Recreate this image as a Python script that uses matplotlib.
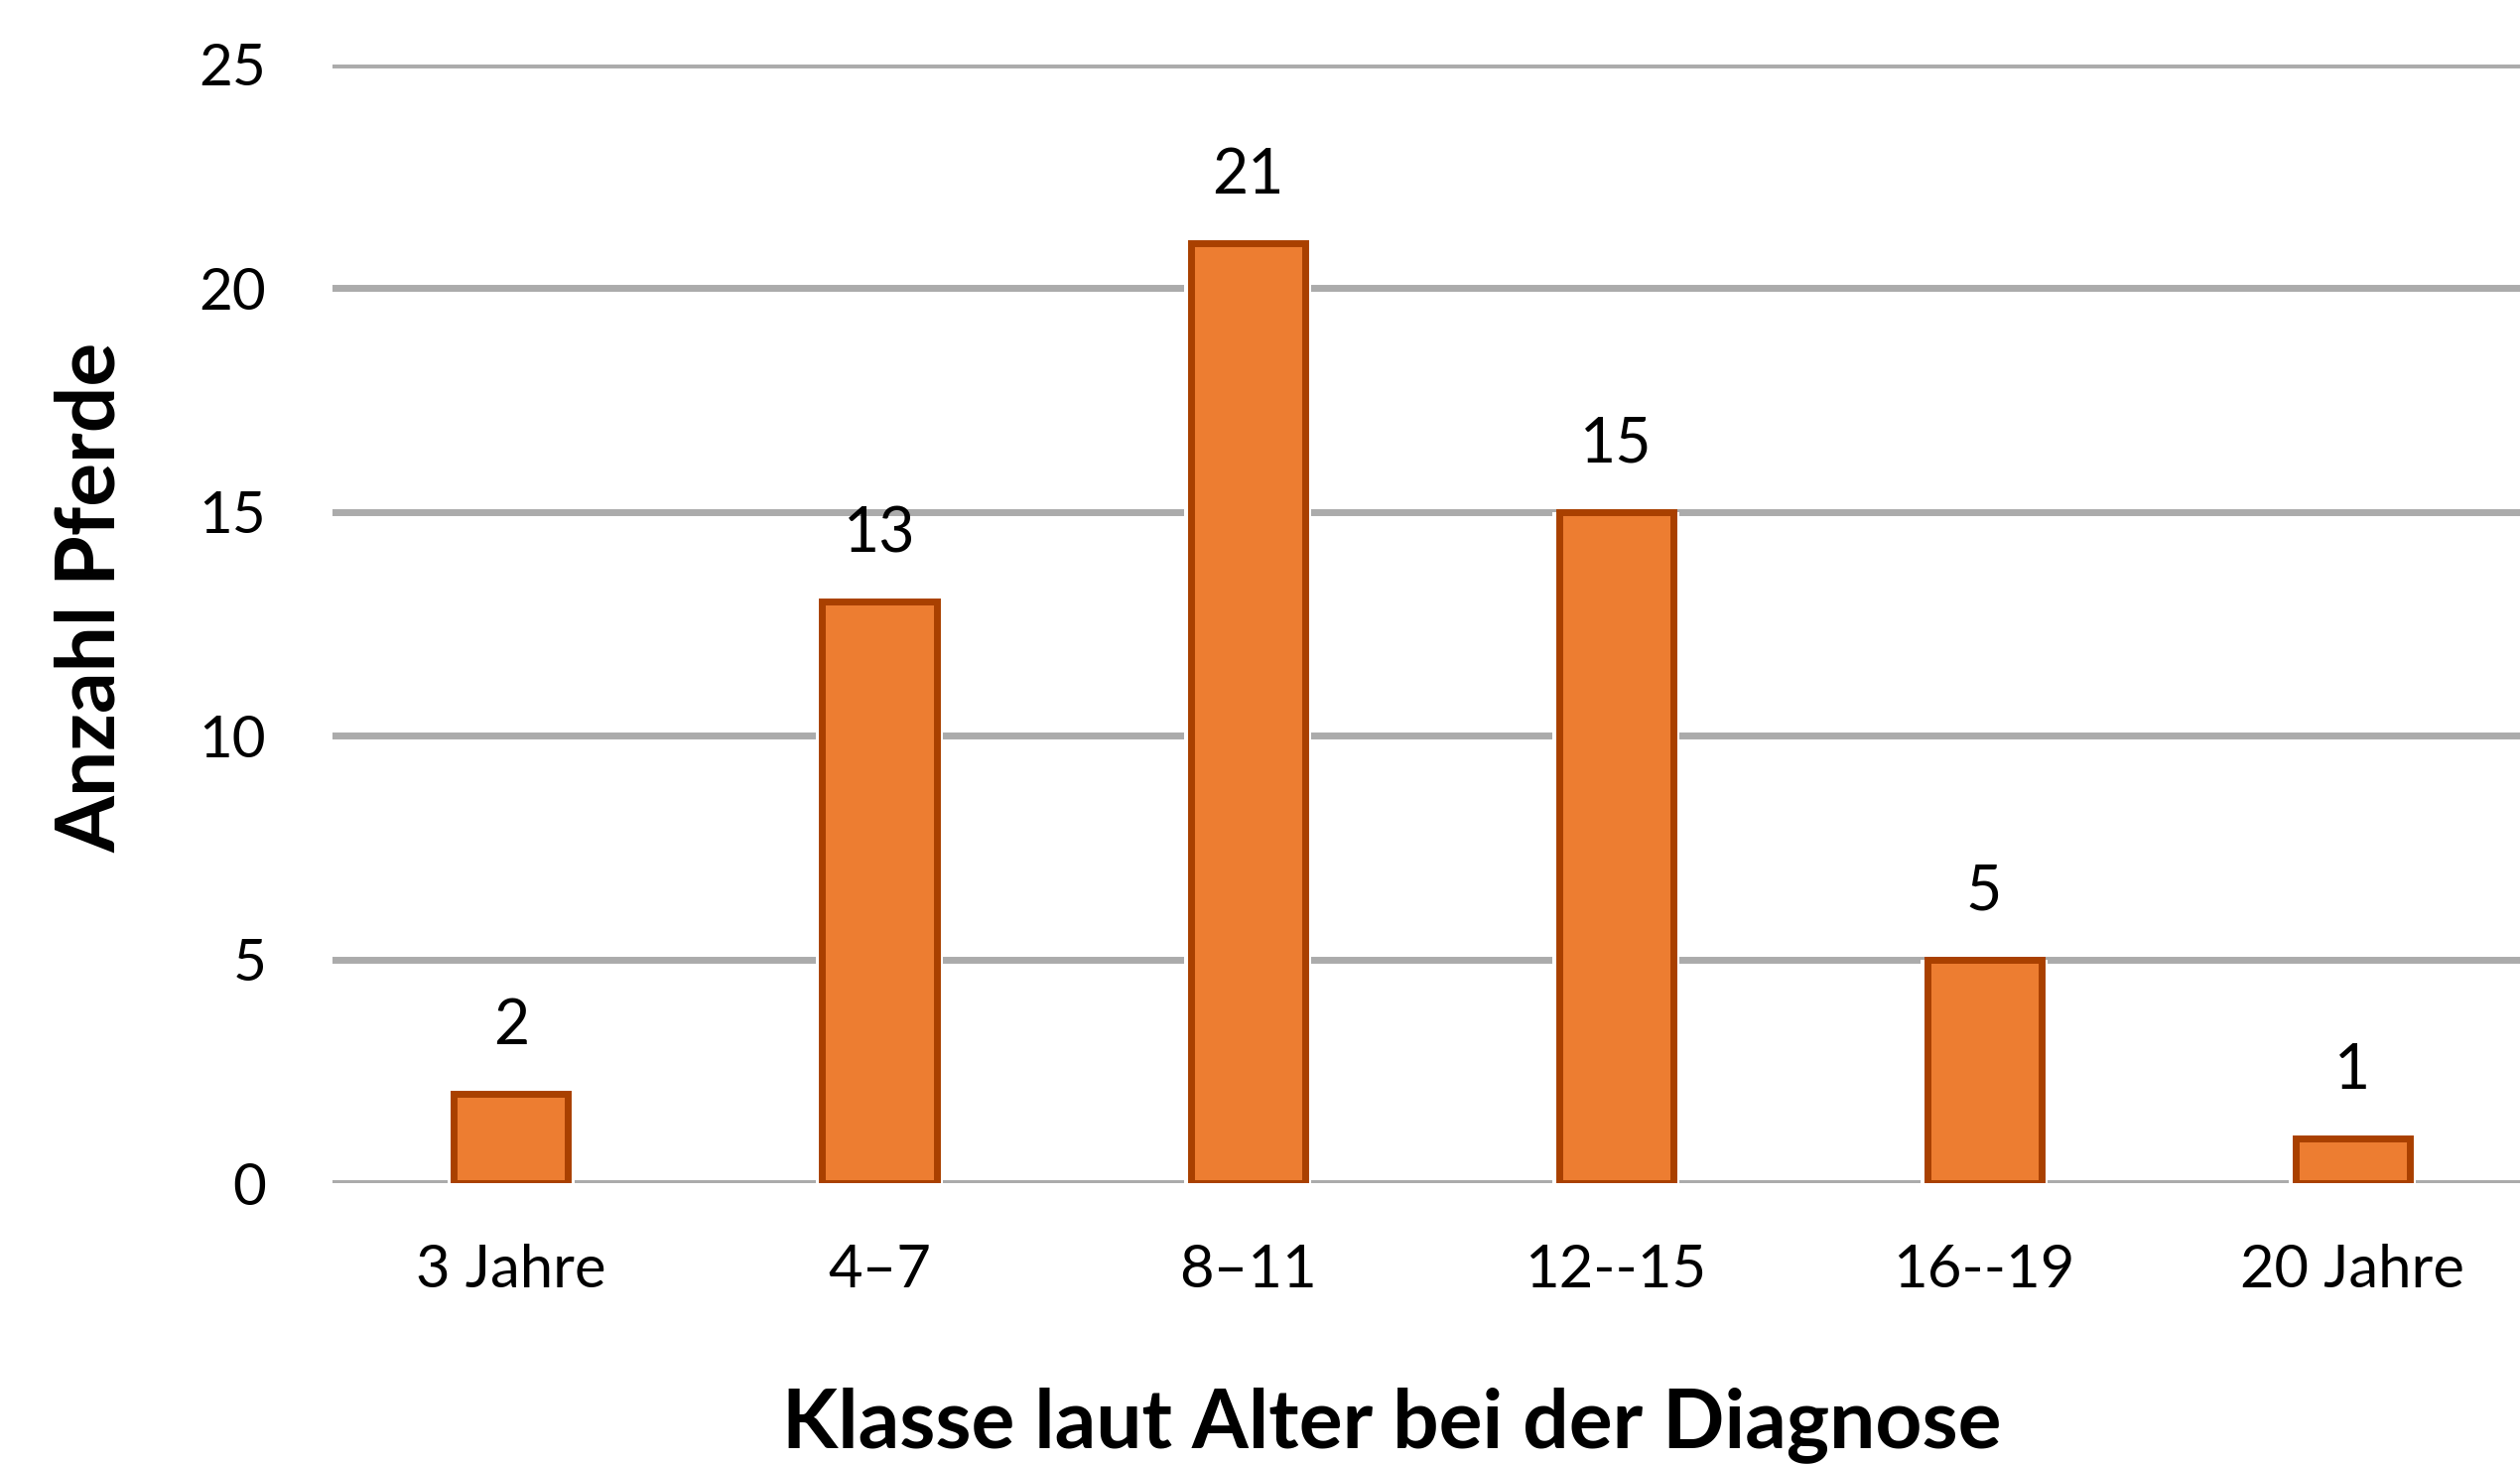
import matplotlib
matplotlib.use("Agg")
import matplotlib.pyplot as plt
import numpy as np

categories = ["3 Jahre", "4\u20137", "8\u201311", "12--15", "16--19", "20 Jahre"]
values = [2, 13, 21, 15, 5, 1]
yticks = [0, 5, 10, 15, 20, 25]

plt.rcParams['font.family'] = ['Lato', 'DejaVu Sans']

W, H, DPI = 2539, 1476, 100
fig = plt.figure(figsize=(W / DPI, H / DPI), dpi=DPI)
ax = fig.add_axes([335 / W, 1 - 1192 / H, 1 - 335 / W, (1192 - 65) / H])

x = np.arange(len(categories))
ax.set_xlim(-0.485, 5.455)
ax.set_ylim(0, 25)

for yt in yticks:
    ax.axhline(yt, color="#ababab", lw=5, zorder=1)

# soft white halo around bars
ax.bar(x, values, width=0.345, color="white", zorder=2, linewidth=0)
ax.bar(x, values, width=0.31, color="#ED7D31", edgecolor="#A94000",
       linewidth=5, zorder=3)

for xi, v in zip(x, values):
    ax.annotate(str(v), (xi, v), xytext=(0, 28), textcoords="offset points",
                ha="center", va="bottom", fontsize=45, color="black")

ax.set_xticks(x)
ax.set_xticklabels(categories, fontsize=43)
ax.set_yticks(yticks)
ax.set_yticklabels([str(t) for t in yticks], fontsize=42)
ax.tick_params(axis="both", length=0)
ax.tick_params(axis="x", pad=44)
ax.tick_params(axis="y", pad=48)
for s in ax.spines.values():
    s.set_visible(False)

fig.text(1402 / W, 1 - 1436 / H, "Klasse laut Alter bei der Diagnose",
         ha="center", va="center", fontsize=59, fontweight="bold")
fig.text(92 / W, 1 - 602 / H, "Anzahl Pferde", ha="center", va="center",
         rotation=90, fontsize=59, fontweight="bold")

fig.savefig("out.png", dpi=DPI, facecolor="white")
